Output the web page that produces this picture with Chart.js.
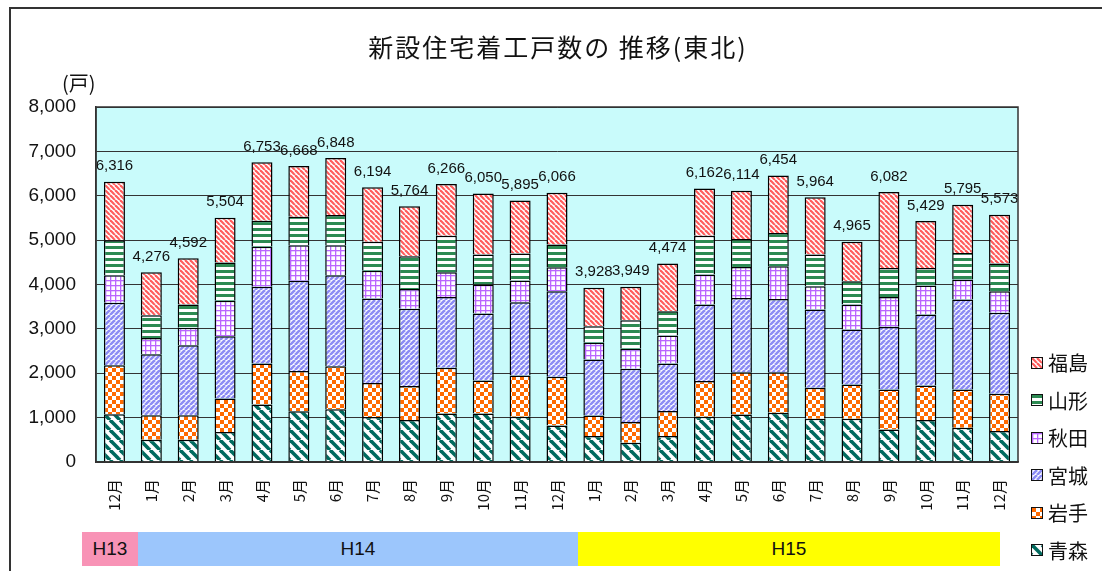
<!DOCTYPE html>
<html>
<head>
<meta charset="utf-8">
<script src="https://cdn.jsdelivr.net/npm/chart.js@4/dist/chart.umd.min.js"></script>
<style>
body{margin:0;background:#fff;font-family:"Noto Sans CJK JP",sans-serif;}
#wrap{position:relative;width:1102px;height:571px;overflow:hidden;}
#frame{position:absolute;left:9px;top:7px;width:1200px;height:700px;border:2px solid #333;}
#chart{position:absolute;left:0;top:0;}
#title{position:absolute;left:358px;width:400px;top:28px;text-align:center;font-size:25px;letter-spacing:2px;color:#111;}
#unit{position:absolute;left:62px;top:68px;font-size:20px;color:#111;}
.era{position:absolute;top:532px;height:34px;line-height:34px;text-align:center;font-family:"Liberation Sans",sans-serif;font-size:19px;color:#111;}
#legend{position:absolute;left:1031px;top:344px;}
.li{height:37.5px;display:flex;align-items:center;font-size:20px;color:#111;}
.li canvas{width:10px;height:10px;border:1px solid #111;margin-right:5px;}
</style>
</head>
<body>
<div id="wrap">
<div id="frame"></div>
<canvas id="chart" width="1102" height="571"></canvas>
<div id="title">新設住宅着工戸数の 推移(東北)</div>
<div id="unit">(戸)</div>
<div class="era" style="left:82px;width:56px;background:#f893b6;">H13</div>
<div class="era" style="left:138px;width:440px;background:#9cc6fc;">H14</div>
<div class="era" style="left:578px;width:422px;background:#ffff00;">H15</div>
<div id="legend"></div>
</div>
<script>
// 月
var months = ["12月","1月","2月","3月","4月","5月","6月","7月","8月","9月","10月","11月","12月",
              "1月","2月","3月","4月","5月","6月","7月","8月","9月","10月","11月","12月"];
// 県別 (戸)
var aomori    = [1075,504,504,677,1293,1143,1188,1015,945,1095,1095,1020,825, 585,435,585,1020,1073,1110,975,975,735,945,773,698];
var iwate     = [1105,549,549,752,925,910,970,767,765,1028,743,930,1095, 465,465,563,803,952,915,698,773,900,780,862,840];
var miyagi    = [1407,1376,1579,1406,1729,2030,2053,1902,1741,1598,1508,1651,1928, 1261,1200,1073,1725,1673,1651,1763,1238,1411,1598,2026,1823];
var akita     = [623,368,391,797,903,804,676,624,450,555,652,487,540, 375,451,630,676,698,735,525,562,675,653,450,487];
var yamagata  = [790,511,526,864,586,639,677,654,735,825,676,608,511, 375,645,547,877,630,750,713,525,653,398,600,623];
var fukushima = [1316,968,1043,1008,1317,1142,1284,1232,1128,1165,1376,1199,1167, 867,753,1076,1061,1088,1293,1290,892,1708,1055,1084,1102];
var yTicks = [0,1000,2000,3000,4000,5000,6000,7000,8000];

function makePattern(size, draw){
    var c = document.createElement("canvas");
    c.width = size; c.height = size;
    var g = c.getContext("2d");
    g.fillStyle = "#fff";
    g.fillRect(0,0,size,size);
    draw(g,size);
    return c;
}
function diag(color, width, back){
    return function(g,s){
        g.strokeStyle = color; g.lineWidth = width;
        for(var k=-1;k<=1;k++){
            g.beginPath();
            if(back){ g.moveTo(k*s,0); g.lineTo(k*s+s,s); }
            else { g.moveTo(k*s,s); g.lineTo(k*s+s,0); }
            g.stroke();
        }
    };
}
var tiles = {
    aomori: makePattern(10, diag("#006a5e",3.6,true)),
    iwate: makePattern(8, function(g){ g.fillStyle="#ff6a00"; g.fillRect(0,0,4,4); g.fillRect(4,4,4,4); }),
    miyagi: makePattern(5, diag("#8c8cf4",2.6,false)),
    akita: makePattern(5, function(g){ g.fillStyle="#bb66ff"; g.fillRect(0,0,5,1.3); g.fillRect(0,0,1.3,5); }),
    yamagata: makePattern(6, function(g){ g.fillStyle="#2c8a52"; g.fillRect(0,0,6,3); }),
    fukushima: makePattern(5, diag("#ff5c5c",2.2,true))
};
var ctx = document.getElementById("chart").getContext("2d");
function pat(name){ return ctx.createPattern(tiles[name],"repeat"); }

var series = [
    {label:"青森", data:aomori, key:"aomori"},
    {label:"岩手", data:iwate, key:"iwate"},
    {label:"宮城", data:miyagi, key:"miyagi"},
    {label:"秋田", data:akita, key:"akita"},
    {label:"山形", data:yamagata, key:"yamagata"},
    {label:"福島", data:fukushima, key:"fukushima"}
];

// 背景と枠
var plotArea = {
    id:"plotArea",
    beforeDraw: function(chart){
        var a = chart.chartArea, g = chart.ctx;
        g.save();
        g.fillStyle = "#c9fbfb";
        g.fillRect(a.left,a.top,a.right-a.left,a.bottom-a.top);
        g.restore();
    },
    afterDraw: function(chart){
        var a = chart.chartArea, g = chart.ctx;
        g.save();
        g.strokeStyle = "#333"; g.lineWidth = 1.5;
        g.strokeRect(a.left,a.top,a.right-a.left,a.bottom-a.top);
        g.restore();
    }
};
// 合計ラベル
var totals = {
    id:"totals",
    afterDatasetsDraw: function(chart){
        var g = chart.ctx;
        var top = chart.getDatasetMeta(chart.data.datasets.length-1);
        g.save();
        g.font = "15px 'Liberation Sans', sans-serif";
        g.fillStyle = "#111";
        g.textAlign = "center";
        g.textBaseline = "bottom";
        top.data.forEach(function(bar,i){
            var sum = 0;
            chart.data.datasets.forEach(function(d){ sum += d.data[i]; });
            g.fillText(sum.toLocaleString("en-US"), bar.x, bar.y - 8);
        });
        g.restore();
    }
};

var myChart = new Chart(ctx, {
    type: "bar",
    data: {
        labels: months,
        datasets: series.map(function(s){
            return {label:s.label, data:s.data, backgroundColor:pat(s.key),
                    borderColor:"#000", borderWidth:1.5,
                    barPercentage:0.57, categoryPercentage:1.0};
        })
    },
    options: {
        responsive:false,
        animation:false,
        layout:{padding:{left:10,right:84,top:107,bottom:45}},
        plugins:{legend:{display:false}, tooltip:{enabled:false}},
        scales:{
            x:{
                stacked:true,
                grid:{display:false, drawTicks:false},
                border:{color:"#333", width:1.5},
                ticks:{minRotation:90, maxRotation:90, padding:17, color:"#111",
                       font:{family:"'Noto Sans CJK JP'", size:15}},
                afterFit:function(s){ s.height = 64; }
            },
            y:{
                stacked:true, min:0, max:8000,
                afterBuildTicks:function(s){ s.ticks = yTicks.map(function(v){ return {value:v}; }); },
                grid:{color:"#333", lineWidth:1, drawTicks:false},
                border:{color:"#333", width:1.5},
                ticks:{padding:20, color:"#111",
                       font:{family:"'Liberation Sans'", size:19},
                       callback:function(v){ return Number(v).toLocaleString("en-US"); }},
                afterFit:function(s){ s.width = 86; }
            }
        }
    },
    plugins:[plotArea, totals]
});

// 凡例
var legend = document.getElementById("legend");
series.slice().reverse().forEach(function(s){
    var row = document.createElement("div");
    row.className = "li";
    var sw = document.createElement("canvas");
    sw.width = 10; sw.height = 10;
    var sg = sw.getContext("2d");
    sg.fillStyle = sg.createPattern(tiles[s.key],"repeat");
    sg.fillRect(0,0,10,10);
    row.appendChild(sw);
    row.appendChild(document.createTextNode(s.label));
    legend.appendChild(row);
});
</script>
</body>
</html>
